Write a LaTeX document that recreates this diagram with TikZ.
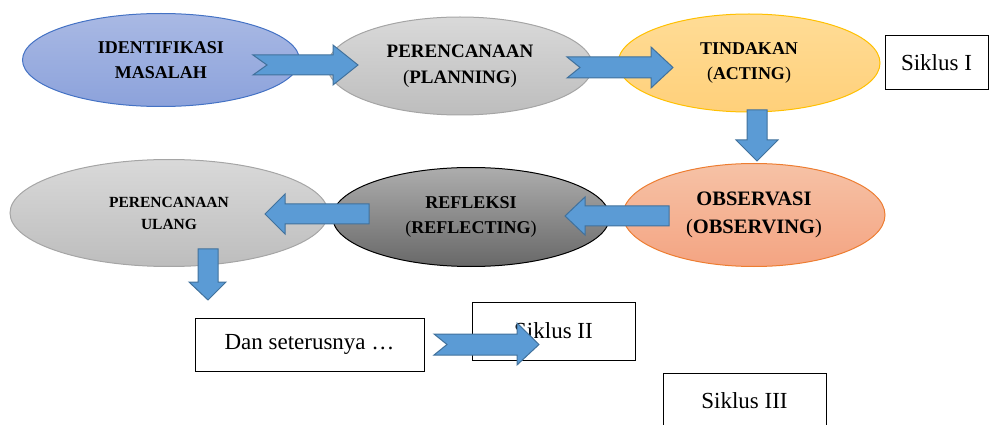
\documentclass[tikz,border=0pt]{standalone}
\usepackage{fontspec}
\setmainfont{Liberation Serif}
\usetikzlibrary{shapes.geometric}

\definecolor{arrowfill}{HTML}{5B9BD5}
\definecolor{arrowline}{HTML}{41719C}
\definecolor{identtop}{HTML}{A9B9E4}
\definecolor{identbot}{HTML}{8CA2DB}
\definecolor{identline}{HTML}{4472C4}
\definecolor{greytop}{HTML}{D9D9D9}
\definecolor{greybot}{HTML}{BDBDBD}
\definecolor{greyline}{HTML}{A5A5A5}
\definecolor{acttop}{HTML}{FFDC96}
\definecolor{actbot}{HTML}{FFD07A}
\definecolor{actline}{HTML}{FFC000}
\definecolor{obstop}{HTML}{F6C2A6}
\definecolor{obsbot}{HTML}{F4A482}
\definecolor{obsline}{HTML}{ED7D31}
\definecolor{refltop}{HTML}{ADADAD}
\definecolor{reflbot}{HTML}{686868}

\tikzset{
	stage/.style={ellipse, inner sep=0pt, align=center, line width=1pt,
		font=\bfseries\fontsize{18}{25}\selectfont},
	cyclebox/.style={rectangle, draw=black, line width=1pt, inner sep=0pt,
		font=\fontsize{23}{26}\selectfont},
	blockarrow/.style={fill=arrowfill, draw=arrowline, line width=1pt, line join=miter},
}

\begin{document}
\begin{tikzpicture}[x=1pt, y=-1pt]
	\useasboundingbox (0,0) rectangle (989,425);

	% the cycle
	\node [stage, draw=identline, top color=identtop, bottom color=identbot,
		minimum width=277pt, minimum height=93pt] (ident) at (161,60) {IDENTIFIKASI\\MASALAH};
	\node [stage, draw=greyline, top color=greytop, bottom color=greybot,
		minimum width=265pt, minimum height=98pt, font=\bfseries\fontsize{19}{26}\selectfont]
		(plan) at (460,66) {PERENCANAAN\\\textmd{(}PLANNING\textmd{)}};
	\node [stage, draw=actline, top color=acttop, bottom color=actbot,
		minimum width=262pt, minimum height=98pt] (act) at (749,63) {TINDAKAN\\\textmd{(}ACTING\textmd{)}};
	\node [stage, draw=obsline, top color=obstop, bottom color=obsbot,
		minimum width=262pt, minimum height=103pt, font=\bfseries\fontsize{20.5}{28}\selectfont]
		(obs) at (754,215) {OBSERVASI\\\textmd{(}OBSERVING\textmd{)}};
	\node [stage, draw=black, top color=refltop, bottom color=reflbot,
		minimum width=277pt, minimum height=99pt] (refl) at (471,217) {REFLEKSI\\\textmd{(}REFLECTING\textmd{)}};
	\node [stage, draw=greyline, top color=greytop, bottom color=greybot,
		minimum width=318pt, minimum height=107pt, font=\bfseries\fontsize{15.5}{22}\selectfont]
		(replan) at (169,213) {PERENCANAAN\\ULANG};

	% cycle labels
	\node [cyclebox, minimum width=103pt, minimum height=54pt] (cyc1) at (936.5,63) {Siklus I};
	\node [cyclebox, minimum width=229pt, minimum height=53pt] (etc) at (309.5,344.5) {Dan seterusnya \dots};
	\node [cyclebox, minimum width=163pt, minimum height=58pt] (cyc2) at (553.5,331) {Siklus II};
	\node [cyclebox, minimum width=163pt, minimum height=56pt] (cyc3) at (744.5,401) {Siklus III};

	% block arrows
	\draw [blockarrow] (253,55) -- (333,55) -- (333,45) -- (358,65) -- (333,85) -- (333,75) -- (253,75) -- (267,65) -- cycle;
	\draw [blockarrow] (567,57) -- (651,57) -- (651,47) -- (673,67.5) -- (651,88) -- (651,78) -- (567,78) -- (580,67.5) -- cycle;
	\draw [blockarrow] (747,110) -- (767,110) -- (767,140) -- (778,140) -- (757,161) -- (736,140) -- (747,140) -- cycle;
	\draw [blockarrow] (669,206) -- (585,206) -- (585,197) -- (565,216) -- (585,235) -- (585,226) -- (669,226) -- cycle;
	\draw [blockarrow] (369,204) -- (285,204) -- (285,194) -- (265,214) -- (285,234) -- (285,224) -- (369,224) -- cycle;
	\draw [blockarrow] (198,249) -- (218,249) -- (218,282) -- (226,282) -- (208,300) -- (189,282) -- (198,282) -- cycle;
	\draw [blockarrow] (434,334) -- (517,334) -- (517,323) -- (539,344.5) -- (517,365) -- (517,355) -- (434,355) -- (447,344.5) -- cycle;
\end{tikzpicture}
\end{document}
